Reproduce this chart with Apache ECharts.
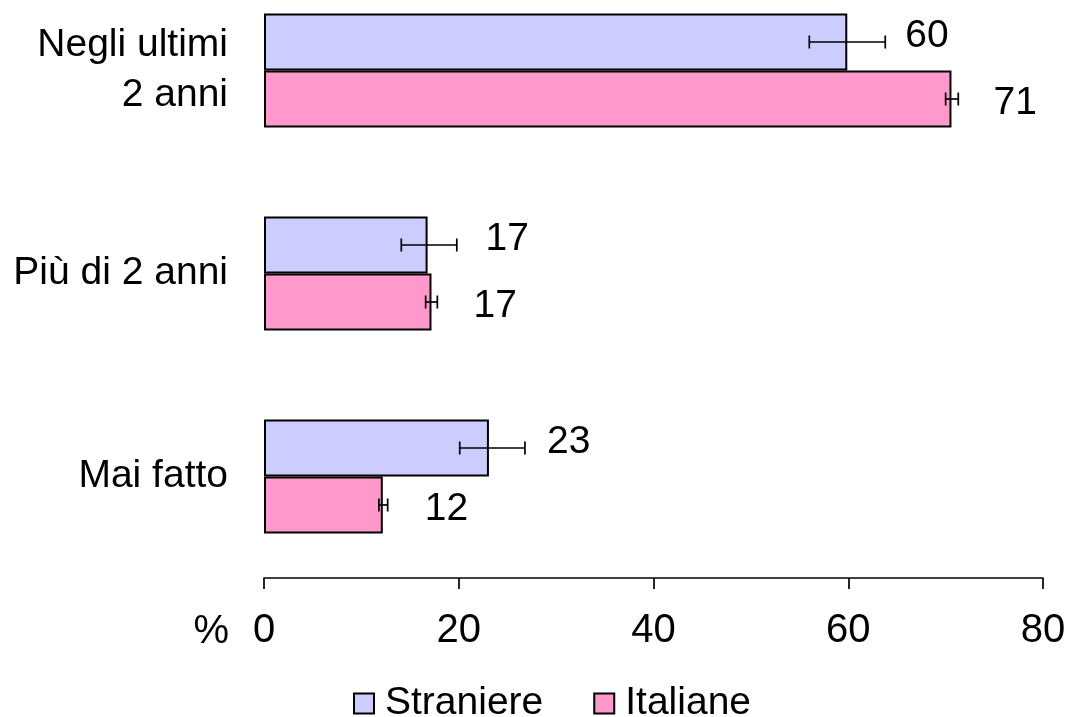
<!DOCTYPE html>
<html><head><meta charset="utf-8">
<script src="https://cdn.jsdelivr.net/npm/echarts@6/dist/echarts.min.js"></script>
<style>html,body{margin:0;padding:0;background:#fff}#c{width:1070px;height:717px}</style>
</head><body><div id="c"></div>
<script>
var categories = ['Negli ultimi\n2 anni', 'Più di 2 anni', 'Mai fatto'];
var seriesNames = ['Straniere', 'Italiane'];
var straniere = [59.9, 16.8, 23.1];
var italiane = [70.6, 17.2, 12.2];
var straniereLabels = ['60', '17', '23'];
var italianeLabels = ['71', '17', '12'];
var straniereLow = [56.0, 14.1, 20.1];
var straniereHigh = [63.8, 19.8, 26.8];
var italianeLow = [70.0, 16.6, 11.8];
var italianeHigh = [71.3, 17.8, 12.7];
var xTicks = [0, 20, 40, 60, 80];

var FONT = '"Liberation Sans", Arial, sans-serif';
var BAR_W = 57;
var chart = echarts.init(document.getElementById('c'));

function errData(low, high) {
  return low.map(function (l, i) { return [i, l, high[i]]; });
}
function errRender(sign) {
  return function (params, api) {
    var idx = api.value(0);
    var p1 = api.coord([api.value(1), idx]);
    var p2 = api.coord([api.value(2), idx]);
    var y = p1[1] + sign * BAR_W / 2;
    var h = 6.5;
    var st = { stroke: '#000', lineWidth: 1.7 };
    return { type: 'group', children: [
      { type: 'line', shape: { x1: p1[0], y1: y, x2: p2[0], y2: y }, style: st },
      { type: 'line', shape: { x1: p1[0], y1: y - h, x2: p1[0], y2: y + h }, style: st },
      { type: 'line', shape: { x1: p2[0], y1: y - h, x2: p2[0], y2: y + h }, style: st }
    ]};
  };
}

chart.setOption({
  animation: false,
  textStyle: { fontFamily: FONT },
  grid: { left: 264, right: 27, top: -31, bottom: 139, containLabel: false, outerBoundsMode: 'none' },
  legend: {
    data: seriesNames,
    top: 679,
    left: 348,
    icon: 'rect',
    itemWidth: 20,
    itemHeight: 20,
    itemGap: 50,
    textStyle: { fontSize: 39, color: '#000', fontFamily: FONT, padding: [0, 0, 0, 6] }
  },
  graphic: [
    { type: 'text', right: 1070 - 229, top: 612,
      style: { text: '%', font: '40px ' + FONT, fill: '#000' } }
  ],
  xAxis: {
    type: 'value',
    min: 0, max: 80, interval: 20,
    axisLine: { show: true, lineStyle: { color: '#000', width: 1.7 } },
    axisTick: { show: true, length: 11, lineStyle: { color: '#000', width: 1.7 } },
    splitLine: { show: false },
    axisLabel: {
      fontSize: 40, color: '#000', margin: 33, fontFamily: FONT,
      formatter: function (v) { return xTicks.indexOf(v) >= 0 ? String(v) : ''; }
    }
  },
  yAxis: {
    type: 'category',
    data: categories,
    inverse: true,
    axisLine: { show: false },
    axisTick: { show: false },
    axisLabel: { fontSize: 39, color: '#000', margin: 36, lineHeight: 50, align: 'right', fontFamily: FONT }
  },
  series: [
    {
      name: 'Straniere', type: 'bar', data: straniere, barWidth: BAR_W, barGap: '0%',
      itemStyle: { color: '#CCCCFF', borderColor: '#000', borderWidth: 2 },
      label: { show: true, position: 'right', distance: 58, fontSize: 39, color: '#000', offset: [0, -6],
        formatter: function (p) { return straniereLabels[p.dataIndex]; } }
    },
    {
      name: 'Italiane', type: 'bar', data: italiane, barWidth: BAR_W, barGap: '0%',
      itemStyle: { color: '#FF99CC', borderColor: '#000', borderWidth: 2 },
      label: { show: true, position: 'right', distance: 42, fontSize: 39, color: '#000', offset: [0, 4],
        formatter: function (p) { return italianeLabels[p.dataIndex]; } }
    },
    {
      type: 'custom', z: 10, silent: true,
      renderItem: errRender(-1),
      encode: { x: [1, 2], y: 0 },
      data: errData(straniereLow, straniereHigh)
    },
    {
      type: 'custom', z: 10, silent: true,
      renderItem: errRender(1),
      encode: { x: [1, 2], y: 0 },
      data: errData(italianeLow, italianeHigh)
    }
  ]
});
</script>
</body></html>
